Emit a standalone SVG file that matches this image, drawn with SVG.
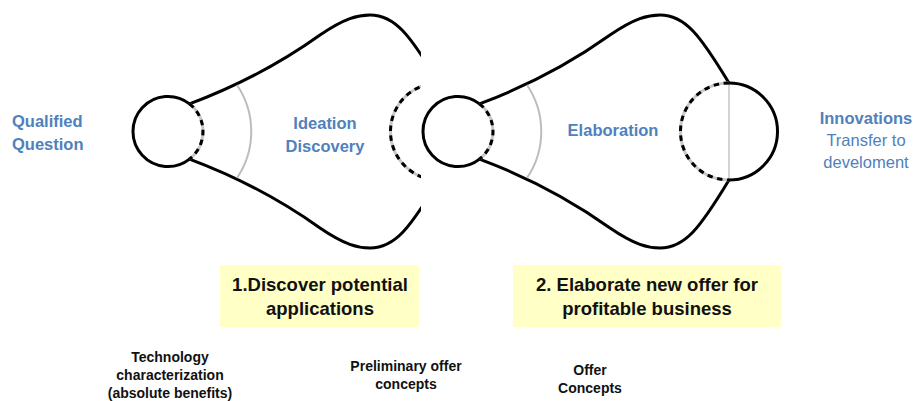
<svg xmlns="http://www.w3.org/2000/svg" xmlns:xlink="http://www.w3.org/1999/xlink" width="915" height="401" viewBox="0 0 915 401">
<style>
.ol{fill:none;stroke:#000;stroke-width:3;stroke-linecap:round}
.gb{fill:none;stroke:#c8c8c8;stroke-width:3}
.dash{fill:none;stroke:#000;stroke-width:3;stroke-dasharray:5.5 4.5}
.ga{fill:none;stroke:#bdbdbd;stroke-width:2}
.gl{fill:none;stroke:#c4c4c4;stroke-width:1.5}
.blue{font-family:"Liberation Sans",Arial,sans-serif;font-weight:bold;font-size:16.5px;fill:#4f81bd}
.bluer{font-family:"Liberation Sans",Arial,sans-serif;font-size:16.5px;fill:#4f81bd}
.box{fill:#ffffc6}
.bt{font-family:"Liberation Sans",Arial,sans-serif;font-weight:bold;font-size:18.5px;fill:#111;text-anchor:middle}
.st{font-family:"Liberation Sans",Arial,sans-serif;font-weight:bold;font-size:14px;fill:#111;text-anchor:middle}
</style>
<defs>
<g id="funnel">
<path class="ol" d="M479.5,103.9 C530,85 575,60 610,35 C635,18 648,15 660,15 C685,15 700,35 729,83"/>
<path class="ol" d="M479.5,159.1 C530,178 575,203 610,228 C635,245 648,248 660,248 C685,248 700,228 729,180"/>
<path class="ol" d="M479.5,103.9 A35,35 0 1,0 479.5,159.1"/>
<path class="gb" d="M479.5,103.9 A35,35 0 0,1 479.5,159.1"/>
<path class="dash" d="M479.5,103.9 A35,35 0 0,1 479.5,159.1"/>
<path class="ga" d="M527,85 A83,83 0 0,1 527,178"/>
<line class="gl" x1="729" y1="83" x2="729" y2="180"/>
<path class="ol" d="M729,83 A48.5,48.5 0 0,1 729,180"/>
<path class="gb" d="M729,83 A48.5,48.5 0 0,0 729,180"/>
<path class="dash" d="M729,83 A48.5,48.5 0 0,0 729,180"/>
</g>
<clipPath id="clip1"><rect x="0" y="0" width="421" height="401"/></clipPath>
</defs>
<rect width="915" height="401" fill="#fff"/>
<g id="stage1">
<g clip-path="url(#clip1)"><use xlink:href="#funnel" transform="translate(-290,0)"/></g>
<text class="blue" text-anchor="middle" x="325" y="129">Ideation</text>
<text class="blue" text-anchor="middle" x="325" y="152">Discovery</text>
</g>
<g id="stage2">
<use xlink:href="#funnel"/>
<text class="blue" text-anchor="middle" x="613" y="136">Elaboration</text>
</g>
<g id="qualified">
<text class="blue" x="12" y="127">Qualified</text>
<text class="blue" x="12" y="150">Question</text>
</g>
<g id="innovations">
<text class="blue" text-anchor="middle" x="866" y="124">Innovations</text>
<text class="bluer" text-anchor="middle" x="866" y="146">Transfer to</text>
<text class="bluer" text-anchor="middle" x="866" y="168">develoment</text>
</g>
<g id="box1">
<rect class="box" x="220" y="265" width="199" height="62"/>
<text class="bt" x="320" y="291">1.Discover potential</text>
<text class="bt" x="320" y="315">applications</text>
</g>
<g id="box2">
<rect class="box" x="513" y="265" width="268" height="62"/>
<text class="bt" x="647" y="291">2. Elaborate new offer for</text>
<text class="bt" x="647" y="315">profitable business</text>
</g>
<g id="tech">
<text class="st" x="170" y="362">Technology</text>
<text class="st" x="170" y="380">characterization</text>
<text class="st" x="170" y="398">(absolute benefits)</text>
</g>
<g id="prelim">
<text class="st" x="406" y="371">Preliminary offer</text>
<text class="st" x="406" y="389">concepts</text>
</g>
<g id="offer">
<text class="st" x="590" y="375">Offer</text>
<text class="st" x="590" y="393">Concepts</text>
</g>
</svg>
